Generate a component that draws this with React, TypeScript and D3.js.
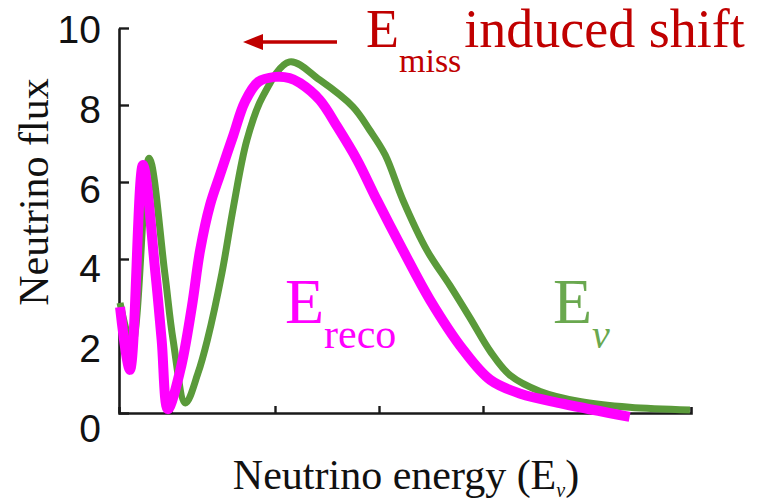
import React, { useEffect, useRef } from 'react';
import * as d3 from 'd3';

// true neutrino energy spectrum (green) and reconstructed one (magenta)
const eNuEnergy = [0.01, 0.125, 0.29, 0.44, 0.52, 0.64, 0.76, 0.85, 0.99, 1.1, 1.23, 1.38, 1.64, 1.93, 2.25, 2.41, 2.56, 2.73, 2.96, 3.18, 3.375, 3.57, 3.76, 4.05, 4.43, 4.91, 5.49];
const eNuFlux = [2.86, 1.77, 6.62, 3.64, 1.9, 0.26, 1.04, 1.9, 3.64, 5.35, 7.09, 8.21, 9.12, 8.65, 7.95, 7.35, 6.7, 5.53, 4.23, 3.32, 2.47, 1.6, 0.98, 0.56, 0.3, 0.15, 0.08];
const eRecoEnergy = [0.01, 0.105, 0.23, 0.35, 0.41, 0.47, 0.59, 0.7, 0.78, 0.875, 0.97, 1.1, 1.21, 1.34, 1.5, 1.64, 1.74, 1.93, 2.1, 2.29, 2.48, 2.73, 2.99, 3.31, 3.57, 3.86, 4.27, 4.91];
const eRecoFlux = [2.75, 1.12, 6.44, 3.64, 1.9, 0.1, 1.12, 2.75, 4.23, 5.4, 6.18, 7.22, 8.08, 8.6, 8.73, 8.7, 8.57, 8.13, 7.43, 6.57, 5.53, 4.23, 2.94, 1.64, 0.86, 0.5, 0.24, -0.1];

const yTicks = [0, 2, 4, 6, 8, 10];
const xTicks = [0.5, 1.5, 2.5, 3.5, 4.5];

const W = 757;
const H = 504;
const SERIF = '"Liberation Serif", "DejaVu Serif", serif';
const SANS = '"Liberation Sans", Arial, sans-serif';

const App = () => {
  const ref = useRef<SVGSVGElement>(null);

  useEffect(() => {
    const svg = d3.select(ref.current);
    svg.selectAll('*').remove();

    const x = d3.scaleLinear().domain([0, 5.5]).range([119, 691]);
    const y = d3.scaleLinear().domain([0, 10]).range([413, 28]);
    // the tick numbers sit a little off the ticks in the original figure
    const yLabel = d3.scaleLinear().domain([0, 10]).range([428, 29]);

    const yAxis = svg
      .append('g')
      .attr('transform', `translate(${x(0)},0)`)
      .call(
        d3
          .axisLeft(y)
          .tickValues(yTicks)
          .tickSizeInner(-10)
          .tickSizeOuter(0)
          .tickFormat(() => '')
      );
    const xAxis = svg
      .append('g')
      .attr('transform', `translate(0,${y(0)})`)
      .call(
        d3
          .axisBottom(x)
          .tickValues(xTicks)
          .tickSizeInner(-7)
          .tickSizeOuter(-6)
          .tickFormat(() => '')
      );
    [yAxis, xAxis].forEach((g) => {
      g.select('.domain').attr('stroke', '#1a1a1a').attr('stroke-width', 2.6);
      g.selectAll('.tick line').attr('stroke', '#1a1a1a').attr('stroke-width', 2.4);
    });

    svg
      .append('g')
      .attr('font-family', SANS)
      .attr('font-size', 39)
      .attr('fill', '#111')
      .attr('text-anchor', 'end')
      .selectAll('text')
      .data(yTicks)
      .enter()
      .append('text')
      .attr('x', 101)
      .attr('y', (d) => yLabel(d))
      .attr('dy', '0.36em')
      .text((d) => d);

    const line = d3
      .line<number>()
      .x((d) => x(d))
      .curve(d3.curveCatmullRom.alpha(0.5));

    svg
      .append('path')
      .attr('d', line.y((_, i) => y(eNuFlux[i]))(eNuEnergy))
      .attr('fill', 'none')
      .attr('stroke', '#5a9a3a')
      .attr('stroke-width', 7)
      .attr('stroke-linejoin', 'round');

    svg
      .append('path')
      .attr('d', line.y((_, i) => y(eRecoFlux[i]))(eRecoEnergy))
      .attr('fill', 'none')
      .attr('stroke', '#ff00ff')
      .attr('stroke-width', 10)
      .attr('stroke-linejoin', 'round');

    // axis titles
    svg
      .append('text')
      .attr('transform', 'translate(48,192) rotate(-90)')
      .attr('text-anchor', 'middle')
      .attr('font-family', SERIF)
      .attr('font-size', 42)
      .attr('fill', '#111')
      .text('Neutrino flux');

    const xt = svg
      .append('text')
      .attr('x', 406)
      .attr('y', 489)
      .attr('text-anchor', 'middle')
      .attr('font-family', SERIF)
      .attr('font-size', 42)
      .attr('fill', '#111');
    xt.append('tspan').text('Neutrino energy (E');
    xt.append('tspan').attr('font-size', 20).attr('dy', 8).attr('font-style', 'italic').text('ν');
    xt.append('tspan').attr('dy', -8).text(')');

    // annotation
    const red = '#c00000';
    svg
      .append('line')
      .attr('x1', 337)
      .attr('x2', 258)
      .attr('y1', 42)
      .attr('y2', 42)
      .attr('stroke', red)
      .attr('stroke-width', 3.5);
    svg
      .append('path')
      .attr('d', 'M243,42 L263,34 L263,50 Z')
      .attr('fill', red);

    const t = svg
      .append('text')
      .attr('x', 366)
      .attr('y', 47)
      .attr('font-family', SERIF)
      .attr('font-size', 54)
      .attr('fill', red);
    t.append('tspan').text('E');
    t.append('tspan').attr('font-size', 34).attr('dy', 25).text('miss');
    t.append('tspan').attr('dy', -25).attr('dx', 3).text('induced shift');

    const reco = svg
      .append('text')
      .attr('x', 285)
      .attr('y', 323)
      .attr('font-family', SERIF)
      .attr('font-size', 64)
      .attr('fill', '#ff00ff');
    reco.append('tspan').text('E');
    reco.append('tspan').attr('font-size', 42).attr('dy', 25).text('reco');

    const nu = svg
      .append('text')
      .attr('x', 553)
      .attr('y', 323)
      .attr('font-family', SERIF)
      .attr('font-size', 64)
      .attr('fill', '#6aa84f');
    nu.append('tspan').text('E');
    nu.append('tspan').attr('font-size', 40).attr('dy', 25).attr('font-style', 'italic').text('ν');
  }, []);

  return (
    <svg
      ref={ref}
      width={W}
      height={H}
      style={{ position: 'absolute', left: 0, top: 0, background: '#fff' }}
    />
  );
};

export default App;
